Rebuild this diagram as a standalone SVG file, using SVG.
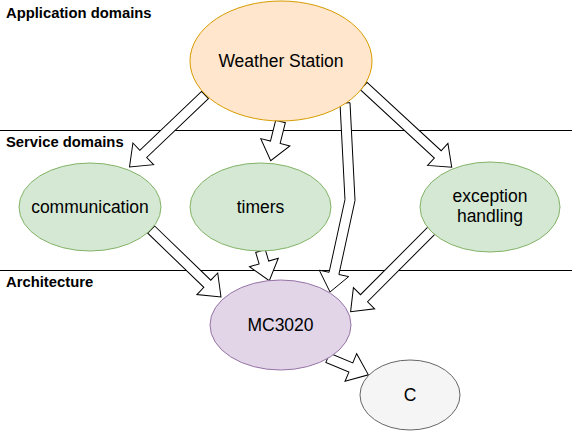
<svg xmlns="http://www.w3.org/2000/svg" width="572" height="431" viewBox="0 0 572 431">
<style>
.lbl{font-family:"Liberation Sans",Arial,Helvetica,sans-serif;font-size:14.8px;font-weight:bold;fill:#000}
.t{font-family:"Liberation Sans",Arial,Helvetica,sans-serif;font-size:17.5px;fill:#000;text-anchor:middle}
.arr{fill:#fff;stroke:#000;stroke-width:1;stroke-linejoin:miter}
.sep{stroke:#000;stroke-width:1}
</style>
<rect width="572" height="431" fill="#fff"/>
<g id="layers">
<line class="sep" x1="0" y1="130.5" x2="572" y2="130.5"/>
<line class="sep" x1="0" y1="270.5" x2="572" y2="270.5"/>
<text class="lbl" x="6" y="17.5">Application domains</text>
<text class="lbl" x="6" y="146.5">Service domains</text>
<text class="lbl" x="6" y="286.5">Architecture</text>
</g>
<g id="connectors">
<path class="arr" transform="translate(205,95) rotate(136.36)" d="M0,-5 H85.3 V-15 L104.3,0 L85.3,15 V5 H0 Z"/>
<path class="arr" transform="translate(280.5,121.5) rotate(104.04)" d="M0,-5 H21.4 V-15 L40.4,0 L21.4,15 V5 H0 Z"/>
<path class="arr" transform="translate(363.7,86) rotate(42.73)" d="M0,-5 H100.8 V-15 L119.8,0 L100.8,15 V5 H0 Z"/>
<path class="arr" d="M340,103.3 L344.97,199.59 L329.1,272.3 L319.3,270.2 L330,292 L348.7,276.6 L338.9,274.5 L355.03,200.41 L350,102.7 Z"/>
<path class="arr" transform="translate(151.2,229.6) rotate(44)" d="M0,-5 H78 V-15 L97,0 L78,15 V5 H0 Z"/>
<path class="arr" transform="translate(260.5,251) rotate(73.5)" d="M0,-5 H12 V-15 L31,0 L12,15 V5 H0 Z"/>
<path class="arr" transform="translate(432,230) rotate(134.9)" d="M0,-5 H96.3 V-15 L115.3,0 L96.3,15 V5 H0 Z"/>
<path class="arr" transform="translate(327.8,357.8) rotate(22.8)" d="M0,-5 H25 V-15 L44,0 L25,15 V5 H0 Z"/>
</g>
<g id="weather">
<ellipse cx="281" cy="61" rx="91" ry="60" fill="#ffe6cc" stroke="#d79b00"/>
<text class="t" x="281" y="67">Weather Station</text>
</g>
<g id="communication">
<ellipse cx="90" cy="207" rx="71" ry="44" fill="#d5e8d4" stroke="#82b366"/>
<text class="t" x="90" y="213">communication</text>
</g>
<g id="timers">
<ellipse cx="260.5" cy="207" rx="70.5" ry="44" fill="#d5e8d4" stroke="#82b366"/>
<text class="t" x="260.5" y="213">timers</text>
</g>
<g id="exception">
<ellipse cx="490" cy="207" rx="70" ry="45" fill="#d5e8d4" stroke="#82b366"/>
<text class="t" x="490" y="201.5">exception</text>
<text class="t" x="490" y="222">handling</text>
</g>
<g id="mc3020">
<ellipse cx="280.5" cy="325" rx="70.5" ry="45" fill="#e1d5e7" stroke="#9673a6"/>
<text class="t" x="280.5" y="331">MC3020</text>
</g>
<g id="c">
<ellipse cx="410" cy="395" rx="50" ry="35" fill="#f5f5f5" stroke="#666666"/>
<text class="t" x="410" y="401">C</text>
</g>
</svg>
